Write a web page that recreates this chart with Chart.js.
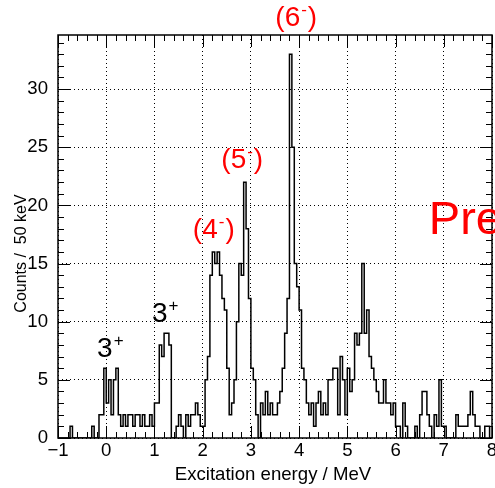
<!DOCTYPE html>
<html>
<head>
<meta charset="utf-8">
<script src="https://cdn.jsdelivr.net/npm/chart.js@4.4.1/dist/chart.umd.min.js"></script>
<style>
  html, body { margin: 0; padding: 0; background: #fff; }
  canvas { display: block; }
</style>
</head>
<body>
<canvas id="spektrum" width="495" height="488"></canvas>
<script>
// histogram: 50 keV bins from -1 to 8 MeV
const binStart = -1;
const binWidth = 0.05;
const counts = [
  0, 0, 0, 0, 0, 1, 0, 0, 0, 0, 0, 0, 0, 0, 1, 0, 0, 2, 2, 6,
  3, 5, 2, 5, 6, 2, 1, 2, 1, 2, 2, 1, 2, 2, 1, 2, 1, 1, 2, 1,
  3, 3, 8, 7, 9, 9, 8, 0, 0, 1, 2, 1, 0, 2, 1, 2, 2, 3, 2, 1,
  1, 5, 7, 14, 16, 15, 16, 14, 12, 11, 6, 2, 3, 5, 10, 15, 14, 22, 18, 12,
  6, 5, 2, 0, 3, 2, 4, 2, 3, 2, 2, 3, 4, 6, 9, 12, 33, 25, 15, 13,
  11, 6, 5, 3, 2, 3, 1, 3, 4, 2, 3, 2, 5, 5, 6, 6, 2, 7, 5, 2,
  6, 4, 5, 9, 8, 9, 15, 9, 11, 7, 6, 5, 4, 3, 3, 5, 3, 3, 2, 3,
  1, 1, 0, 3, 1, 0, 0, 0, 1, 0, 2, 4, 4, 2, 1, 0, 2, 1, 5, 1,
  1, 0, 0, 0, 0, 2, 1, 1, 1, 1, 2, 4, 2, 1, 1, 0, 0, 1, 1, 0
];
const xTicks = [-1, 0, 1, 2, 3, 4, 5, 6, 7, 8];
const xTickLabels = ['\u22121', '0', '1', '2', '3', '4', '5', '6', '7', '8'];
const yTicks = [0, 5, 10, 15, 20, 25, 30];
const yMax = 34.65;

const schrift = "'Liberation Sans', Arial, Helvetica, sans-serif";
Chart.defaults.font.family = schrift;
Chart.defaults.color = '#000';

// point at every lower bin edge plus the last upper edge
const punkte = counts.map((c, i) => ({ x: binStart + i * binWidth, y: c }));
punkte.push({ x: binStart + counts.length * binWidth, y: counts[counts.length - 1] });

// text labels (anchor in data units)
const beschriftungen = [
  { pre: '3', sup: '+', post: '', e: -0.19, c: 6.98, color: '#000', align: 'left' },
  { pre: '3', sup: '+', post: '', e: 0.95, c: 10.0, color: '#000', align: 'left' },
  { pre: '(4', sup: '-', post: ')', e: 2.21, c: 17.2, color: '#ff0000', align: 'center' },
  { pre: '(5', sup: '-', post: ')', e: 2.80, c: 23.2, color: '#ff0000', align: 'center' },
  { pre: '(6', sup: '-', post: ')', e: 3.92, c: 35.4, color: '#ff0000', align: 'center' }
];

function zeichneLabel(ctx, lab, x, y) {
  const gross = '28px ' + schrift;
  const klein = '17px ' + schrift;
  ctx.font = gross;
  const w1 = ctx.measureText(lab.pre).width;
  const w3 = ctx.measureText(lab.post).width;
  ctx.font = klein;
  const w2 = ctx.measureText(lab.sup).width;
  const links = lab.align === 'center' ? x - (w1 + w2 + w3) / 2 : x;
  ctx.fillStyle = lab.color;
  ctx.textAlign = 'left';
  ctx.textBaseline = 'alphabetic';
  ctx.font = gross;
  ctx.fillText(lab.pre, links, y);
  ctx.font = klein;
  ctx.fillText(lab.sup, links + w1 + 1, y - 11);
  ctx.font = gross;
  ctx.fillText(lab.post, links + w1 + w2 + 2, y);
}

const rootRahmen = {
  id: 'rootRahmen',
  afterDraw(chart) {
    const { ctx, chartArea: a, scales: { x, y } } = chart;
    ctx.save();
    // inward ticks on all four sides
    ctx.strokeStyle = '#000';
    ctx.lineWidth = 1;
    ctx.beginPath();
    for (let i = 0; i <= 45; i++) {
      const px = Math.round(x.getPixelForValue(-1 + i * 0.2)) + 0.5;
      const len = i % 5 === 0 ? 12 : 6;
      ctx.moveTo(px, a.bottom); ctx.lineTo(px, a.bottom - len);
      ctx.moveTo(px, a.top); ctx.lineTo(px, a.top + len);
    }
    for (let v = 0; v <= 34; v++) {
      const py = Math.round(y.getPixelForValue(v)) + 0.5;
      const len = v % 5 === 0 ? 12 : 6;
      ctx.moveTo(a.left, py); ctx.lineTo(a.left + len, py);
      ctx.moveTo(a.right, py); ctx.lineTo(a.right - len, py);
    }
    ctx.stroke();
    ctx.lineWidth = 1.5;
    ctx.strokeRect(a.left, a.top, a.width, a.height);

    // axis titles
    ctx.fillStyle = '#000';
    ctx.font = '18.6px ' + schrift;
    ctx.textAlign = 'center';
    ctx.textBaseline = 'alphabetic';
    ctx.fillText('Excitation energy / MeV', (a.left + a.right) / 2 - 2, 480);
    ctx.save();
    ctx.translate(26, (a.top + a.bottom) / 2 + 17);
    ctx.rotate(-Math.PI / 2);
    ctx.font = '16px ' + schrift;
    ctx.fillText('Counts /  50 keV', 0, 0);
    ctx.restore();

    beschriftungen.forEach(lab => {
      zeichneLabel(ctx, lab, x.getPixelForValue(lab.e), y.getPixelForValue(lab.c));
    });

    ctx.fillStyle = '#ff0000';
    ctx.font = '47px ' + schrift;
    ctx.textAlign = 'left';
    ctx.fillText('Preliminary', x.getPixelForValue(6.69), y.getPixelForValue(17.55));
    ctx.restore();
  }
};

const ctx = document.getElementById('spektrum').getContext('2d');
window.diagramm = new Chart(ctx, {
  type: 'line',
  data: {
    datasets: [{
      data: punkte,
      borderColor: '#000',
      borderWidth: 1.5,
      pointRadius: 0,
      stepped: 'before',
      fill: false
    }]
  },
  options: {
    responsive: false,
    animation: false,
    devicePixelRatio: 1,
    layout: { padding: { top: 35, right: 3, left: 0, bottom: 0 } },
    plugins: {
      legend: { display: false },
      tooltip: { enabled: false }
    },
    scales: {
      x: {
        type: 'linear',
        min: binStart,
        max: binStart + counts.length * binWidth,
        afterBuildTicks: (s) => { s.ticks = xTicks.map(v => ({ value: v })); },
        afterFit: (s) => { s.height = 50; s.paddingLeft = 0; s.paddingRight = 0; },
        ticks: {
          padding: 2,
          autoSkip: false,
          maxRotation: 0,
          font: { size: 18.6 },
          callback: (v) => xTickLabels[xTicks.indexOf(v)]
        },
        grid: { color: '#000', lineWidth: 1, drawTicks: false },
        border: { display: false, dash: [1, 3] }
      },
      y: {
        min: 0,
        max: yMax,
        afterBuildTicks: (s) => { s.ticks = yTicks.map(v => ({ value: v })); },
        afterFit: (s) => { s.width = 58; },
        ticks: {
          padding: 10,
          font: { size: 18.6 }
        },
        grid: { color: '#000', lineWidth: 1, drawTicks: false },
        border: { display: false, dash: [1, 3] }
      }
    }
  },
  plugins: [rootRahmen]
});
</script>
</body>
</html>
